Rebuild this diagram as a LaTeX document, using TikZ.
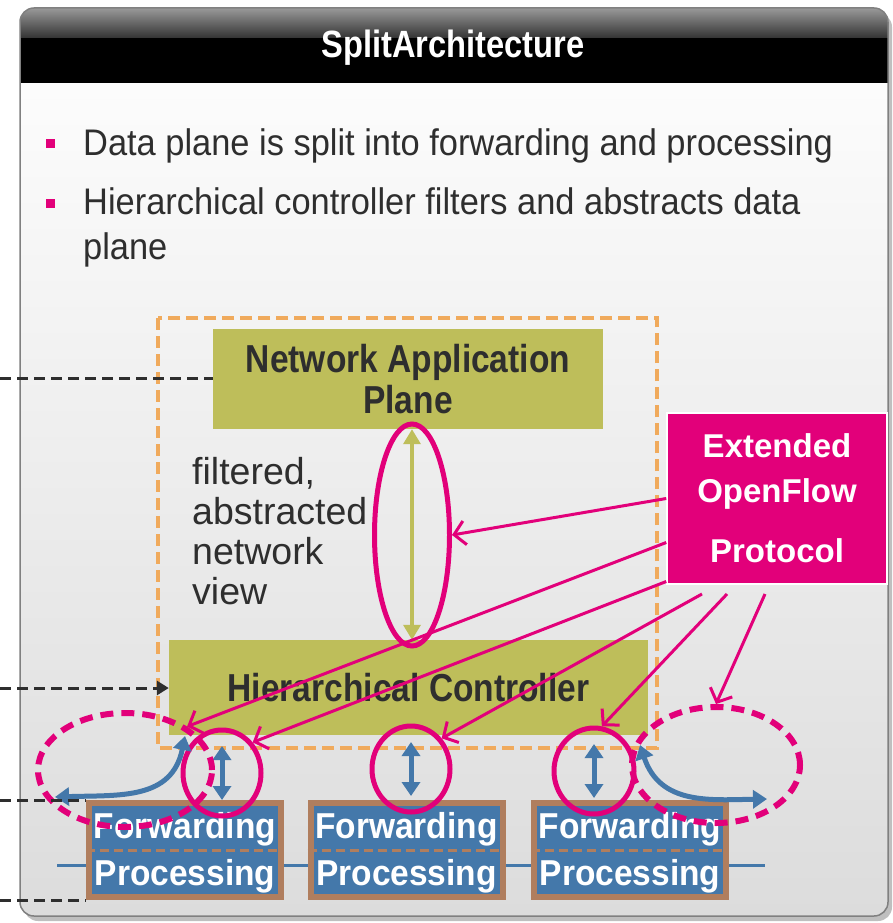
\documentclass[tikz,border=0pt]{standalone}
\usepackage{fontspec}
\setmainfont[FakeStretch=0.93]{Liberation Sans}
\newfontfamily\narrowfont[FakeStretch=0.86]{Liberation Sans}
\newfontfamily\plainfont{Liberation Sans}
\usetikzlibrary{shapes.geometric,arrows.meta,positioning}
\definecolor{tmagenta}{HTML}{E2007A}
\definecolor{planegreen}{HTML}{BEBE5A}
\definecolor{darktext}{HTML}{2E2E2E}
\definecolor{fwdblue}{HTML}{4478AA}
\definecolor{fwdbrown}{HTML}{B07E5E}
\definecolor{ctrlorange}{HTML}{F0AA5C}
\definecolor{panelgray}{HTML}{DCDCDC}
\tikzset{planebox/.style={fill=planegreen,text=darktext,align=center,inner sep=0pt,
    font=\narrowfont\bfseries\fontsize{39}{41}\selectfont}}
\tikzset{fpbox/.style={fill=fwdblue,draw=fwdbrown,line width=6pt,text=white,align=center,
    inner sep=0pt,minimum width=192pt,minimum height=94pt,font=\bfseries\fontsize{36}{47}\selectfont}}
\tikzset{magring/.style={ellipse,draw=tmagenta,line width=5pt,inner sep=0pt}}
\tikzset{magdashring/.style={ellipse,draw=tmagenta,line width=6pt,inner sep=0pt,
    dash pattern=on 13pt off 8pt}}
\tikzset{ofparrow/.style={draw=tmagenta,line width=3pt,-{Straight Barb[length=11pt,width=24pt]}}}
\tikzset{bidir/.style={draw=fwdblue,line width=5pt,{Triangle[length=14pt,width=18pt]}-{Triangle[length=14pt,width=18pt]}}}
\tikzset{refline/.style={draw=darktext,line width=3pt,dash pattern=on 11pt off 6pt}}
\tikzset{bullettext/.style={text=darktext,inner sep=0pt,font=\fontsize{37}{45}\selectfont}}

\begin{document}
\begin{tikzpicture}[x=1pt,y=-1pt]
	  \useasboundingbox (0,0) rectangle (893,923);

	  % panel and title bar
	  \fill [black!25,rounded corners=14pt] (24,13) rectangle (892,921);
	  \fill [rounded corners=14pt,top color=white,bottom color=panelgray] (20,8) rectangle (888,916);
	  \begin{scope}
	  \clip [rounded corners=14pt] (20,8) rectangle (888,916);
	  \fill [top color=black!40,bottom color=black!80] (20,8) rectangle (888,38);
	  \fill [black] (20,38) rectangle (888,83);
	  \end{scope}
	  \draw [black!50,line width=1.5pt,rounded corners=14pt] (20,8) rectangle (888,916);
	  \node [text=white,font=\narrowfont\bfseries\fontsize{38}{40}\selectfont] (title) at (453,48) {SplitArchitecture};

	  \node [fill=tmagenta,minimum size=9pt,inner sep=0pt] (b1) at (50,143) {};
	  \node [fill=tmagenta,minimum size=9pt,inner sep=0pt] (b2) at (50,203) {};
	  \node [bullettext,anchor=west] (t1) at (83,146) {Data plane is split into forwarding and processing};
	  \node [bullettext,anchor=north west,align=left] (t2) at (83,187) {Hierarchical controller filters and abstracts data\\plane};

	  \draw [ctrlorange,line width=4.5pt,dash pattern=on 12pt off 6pt] (158,318) rectangle (657,748);

	  \node [planebox,minimum width=390pt,minimum height=100pt] (nap) at (408,379) {Network Application\\Plane};
	  \node [planebox,minimum width=479pt,minimum height=95pt] (hc) at (408.5,687.5) {Hierarchical Controller};
	  \node [bullettext,anchor=north west,align=left,font=\plainfont\fontsize{37.5}{40}\selectfont] (view) at (192,457) {filtered,\\abstracted\\network\\view};

	  \draw [planegreen,line width=3.5pt,{Triangle[length=15pt,width=17pt]}-{Triangle[length=15pt,width=17pt]}] (nap.south -| 412,0) -- (hc.north -| 412,0);
	  \node [magring,minimum width=75pt,minimum height=222pt] (vell) at (412,535) {};

	  \draw [fwdblue,line width=3pt] (57,865) -- (765,865);
	  \node [fpbox] (fp1) at (185,850) {\rule{0pt}{32pt}Forwarding\\Processing};
	  \node [fpbox] (fp2) at (406.5,850) {\rule{0pt}{32pt}Forwarding\\Processing};
	  \node [fpbox] (fp3) at (630,850) {\rule{0pt}{32pt}Forwarding\\Processing};
	  \draw [fwdbrown,line width=3pt,dash pattern=on 9pt off 5pt] (fp1.west) -- (fp1.east);
	  \draw [fwdbrown,line width=3pt,dash pattern=on 9pt off 5pt] (fp2.west) -- (fp2.east);
	  \draw [fwdbrown,line width=3pt,dash pattern=on 9pt off 5pt] (fp3.west) -- (fp3.east);

	  \node [magring,minimum width=78pt,minimum height=86pt] (c1) at (222,773) {};
	  \node [magring,minimum width=78pt,minimum height=86pt] (c2) at (411,769) {};
	  \node [magring,minimum width=80pt,minimum height=86pt] (c3) at (594,771) {};
	  \draw [bidir] ([yshift=27pt]c1.center) -- ([yshift=-27pt]c1.center);
	  \draw [bidir] ([yshift=27pt]c2.center) -- ([yshift=-27pt]c2.center);
	  \draw [bidir] ([yshift=27pt]c3.center) -- ([yshift=-27pt]c3.center);

	  \node [magdashring,minimum width=174pt,minimum height=114pt] (de1) at (125,770) {};
	  \node [magdashring,minimum width=168pt,minimum height=116pt] (de2) at (716,765) {};

	  \coordinate (lup) at (185,736);
	  \coordinate (lout) at (55,797);
	  \coordinate (rup) at (640,745);
	  \coordinate (rout) at (767,799);
	  \draw [bidir] (lup) .. controls (172,800) and (120,795) .. (lout);
	  \draw [bidir] (rup) .. controls (660,805) and (710,800) .. (rout);

	  \node [fill=tmagenta,draw=white,line width=1.5pt,minimum width=220pt,minimum height=171pt,
	    text=white,align=center,font=\plainfont\bfseries\fontsize{33}{45}\selectfont] (ofp) at (777,498.5) {Extended\\OpenFlow\\[15pt]Protocol};

	  \coordinate (o4) at (702,594);
	  \coordinate (o5) at (727,594);
	  \coordinate (o6) at (765,594);
	  \draw [ofparrow] (ofp.west) -- (vell.east);
	  \draw [ofparrow] ([yshift=-44pt]ofp.west) -- (de1.35);
	  \draw [ofparrow] ([yshift=-83pt]ofp.west) -- (c1.45);
	  \draw [ofparrow] (o4) -- (c2.45);
	  \draw [ofparrow] (o5) -- (c3.80);
	  \draw [ofparrow] (o6) -- (de2.north);

	  \coordinate (l1) at (0,378);
	  \coordinate (l2) at (0,688);
	  \coordinate (l3) at (0,800);
	  \coordinate (l4) at (0,900);
	  \draw [refline] (l1) -- (l1 -| nap.west);
	  \draw [refline,-{Triangle[length=12pt,width=14pt]}] (l2) -- (l2 -| hc.west);
	  \draw [refline] (l3) -- (l3 -| fp1.west);
	  \draw [refline] (l4) -- (l4 -| fp1.west);

\end{tikzpicture}
\end{document}
